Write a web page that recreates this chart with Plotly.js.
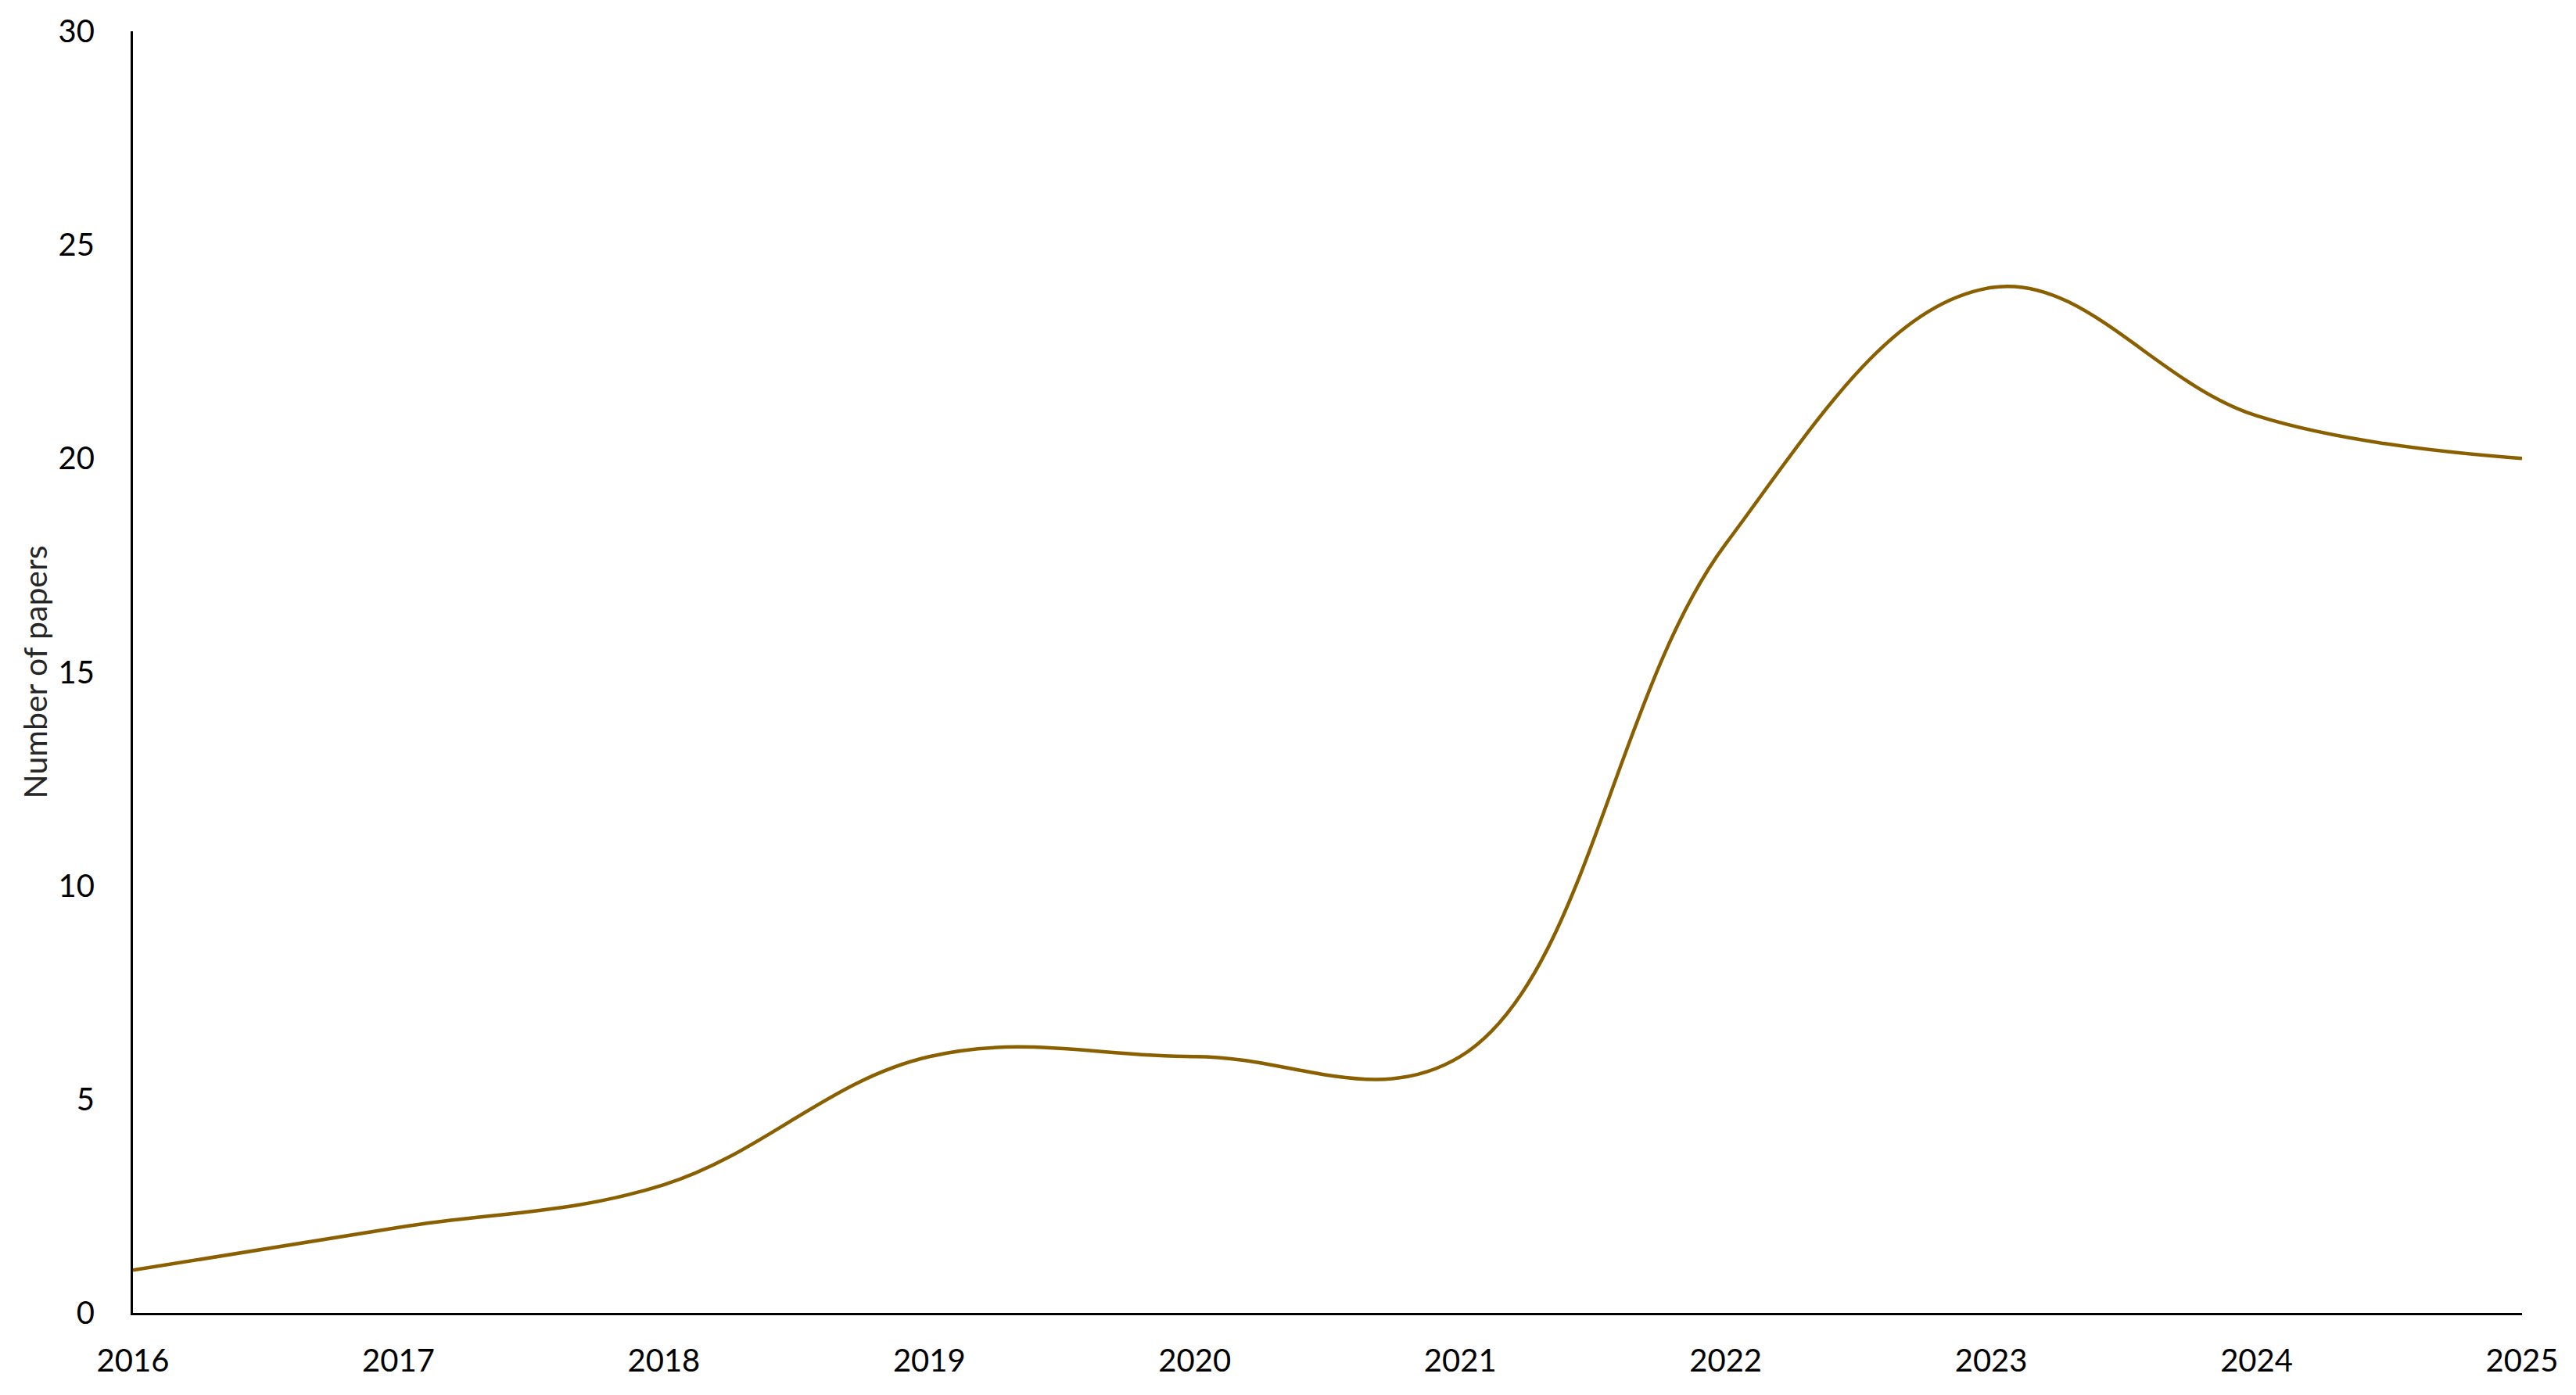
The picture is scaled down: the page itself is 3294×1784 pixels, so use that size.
<!DOCTYPE html>
<html>
<head>
<meta charset="utf-8">
<script src="https://cdn.plot.ly/plotly-3.0.1.min.js"></script>
<style>
  html, body { margin: 0; padding: 0; background: #fff; }
  #chart { width: 3294px; height: 1784px; }
</style>
</head>
<body>
<div id="chart"></div>
<script>
// papers per year
const years = [2016, 2017, 2018, 2019, 2020, 2021, 2022, 2023, 2024, 2025];
const papers = [1, 2, 3, 6, 6, 6, 18, 24, 21, 20];
const yTicks = [0, 5, 10, 15, 20, 25, 30];

const FONT = 'Lato, "Open Sans", sans-serif';

const trace = {
  x: years, y: papers, type: 'scatter', mode: 'lines',
  line: { color: '#8A5F00', width: 4.5, shape: 'spline', smoothing: 1.1 },
  hoverinfo: 'skip', showlegend: false
};

const layout = {
  width: 3294, height: 1784,
  margin: { l: 170, r: 69, t: 40, b: 105 },
  paper_bgcolor: '#fff', plot_bgcolor: '#fff',
  font: { family: FONT, color: '#000' },
  xaxis: {
    range: [2016, 2025], tickvals: years, ticktext: years.map(String),
    showgrid: false, zeroline: false, showline: true, linecolor: '#000', linewidth: 3,
    ticks: '', ticklabelstandoff: 24, tickfont: { size: 40, family: FONT, color: '#000' }
  },
  yaxis: {
    range: [0, 30], tickvals: yTicks, ticktext: yTicks.map(String),
    showgrid: false, zeroline: false, showline: true, linecolor: '#000', linewidth: 3,
    ticks: '', ticklabelstandoff: 38, tickfont: { size: 40, family: FONT, color: '#000' },
    title: { text: 'Number of papers', standoff: 2, font: { size: 41, family: FONT, color: '#262626' } }
  }
};

Plotly.newPlot('chart', [trace], layout, { displayModeBar: false, staticPlot: true });
</script>
</body>
</html>
